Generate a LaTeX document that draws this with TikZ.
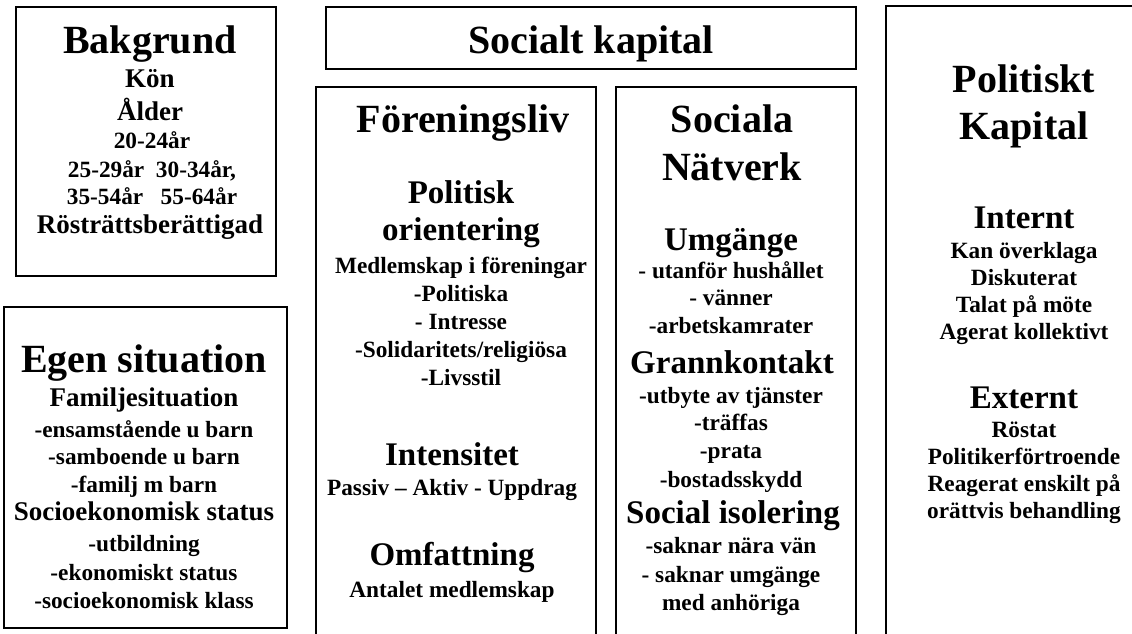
\documentclass[tikz,border=0pt]{standalone}
\usepackage{fontspec}
\setmainfont{Liberation Serif}
\usepackage{tikz}
\usetikzlibrary{positioning}

\begin{document}
\begin{tikzpicture}[
  x=1pt, y=-1pt,
  frame/.style={draw, line width=1.1pt},
  hd/.style={anchor=base, inner sep=0pt, font=\bfseries\fontsize{40}{40}\selectfont},
  sub/.style={anchor=base, inner sep=0pt, font=\bfseries\fontsize{33}{33}\selectfont},
  mid/.style={anchor=base, inner sep=0pt, font=\bfseries\fontsize{27}{27}\selectfont},
  itm/.style={anchor=base, inner sep=0pt, font=\bfseries\fontsize{23.3}{23.3}\selectfont}
]
  \useasboundingbox (0,0) rectangle (1132,633);
  \clip (0,0) rectangle (1132,633);

  % frames (the three right ones run off the page)
  \draw[frame] (16,7) rectangle (276,276);
  \draw[frame] (4,307) rectangle (287,628);
  \draw[frame] (326,7) rectangle (856,69);
  \draw[frame] (316,700) |- (596,87) -- (596,700);
  \draw[frame] (616,700) |- (856,87) -- (856,700);
  \draw[frame] (886,700) |- (1200,6);

  % Bakgrund
  \node[hd]  (bakgrund) at (150,53)  {Bakgrund};
  \node[mid] (kon)      at (150,87)  {Kön};
  \node[mid] (alder)    at (150,120) {Ålder};
  \node[itm] (age1)     at (152,148) {20-24år};
  \node[itm] (age2)     at (152,177) {25-29år\ \ 30-34år,};
  \node[itm] (age3)     at (152,204) {35-54år\ \ \ 55-64år};
  \node[mid] (rostratt) at (150,233) {Rösträttsberättigad};

  % Egen situation
  \node[hd]  (egen)   at (144,372) {Egen situation};
  \node[mid] (familj) at (144,406) {Familjesituation};
  \node[itm] (fam1)   at (144,437) {-ensamstående u barn};
  \node[itm] (fam2)   at (144,464) {-samboende u barn};
  \node[itm] (fam3)   at (144,492) {-familj m barn};
  \node[mid] (socek)  at (144,520) {Socioekonomisk status};
  \node[itm] (sek1)   at (144,551) {-utbildning};
  \node[itm] (sek2)   at (144,580) {-ekonomiskt status};
  \node[itm] (sek3)   at (144,608) {-socioekonomisk klass};

  % Socialt kapital
  \node[hd] (socialt) at (591,53) {Socialt kapital};

  % Foreningsliv
  \node[hd]  (foren)   at (463,132) {Föreningsliv};
  \node[sub] (polor1)  at (461,203) {Politisk};
  \node[sub] (polor2)  at (461,240) {orientering};
  \node[itm] (medl)    at (461,273) {Medlemskap i föreningar};
  \node[itm] (medl1)   at (461,301) {-Politiska};
  \node[itm] (medl2)   at (461,329) {- Intresse};
  \node[itm] (medl3)   at (461,357) {-Solidaritets/religiösa};
  \node[itm] (medl4)   at (461,385) {-Livsstil};
  \node[sub] (intens)  at (452,465) {Intensitet};
  \node[itm] (passiv)  at (452,495) {Passiv -- Aktiv - Uppdrag};
  \node[sub] (omfatt)  at (452,565) {Omfattning};
  \node[itm] (antal)   at (452,597) {Antalet medlemskap};

  % Sociala natverk
  \node[hd]  (soc1)    at (732,132) {Sociala};
  \node[hd]  (soc2)    at (732,180) {Nätverk};
  \node[sub] (umg)     at (731,250) {Umgänge};
  \node[itm] (umg1)    at (731,278) {- utanför hushållet};
  \node[itm] (umg2)    at (731,305) {- vänner};
  \node[itm] (umg3)    at (731,333) {-arbetskamrater};
  \node[sub] (grann)   at (732,373) {Grannkontakt};
  \node[itm] (gr1)     at (731,403) {-utbyte av tjänster};
  \node[itm] (gr2)     at (731,430) {-träffas};
  \node[itm] (gr3)     at (731,458) {-prata};
  \node[itm] (gr4)     at (731,487) {-bostadsskydd};
  \node[sub] (isol)    at (733,523) {Social isolering};
  \node[itm] (is1)     at (731,553) {-saknar nära vän};
  \node[itm] (is2)     at (731,582) {- saknar umgänge};
  \node[itm] (is3)     at (731,610) {med anhöriga};

  % Politiskt kapital
  \node[hd]  (pol1)    at (1024,92)  {Politiskt};
  \node[hd]  (pol2)    at (1024,139) {Kapital};
  \node[sub] (intern)  at (1024,228) {Internt};
  \node[itm] (in1)     at (1024,258) {Kan överklaga};
  \node[itm] (in2)     at (1024,285) {Diskuterat};
  \node[itm] (in3)     at (1024,312) {Talat på möte};
  \node[itm] (in4)     at (1024,339) {Agerat kollektivt};
  \node[sub] (extern)  at (1024,408) {Externt};
  \node[itm] (ex1)     at (1024,437) {Röstat};
  \node[itm] (ex2)     at (1024,464) {Politikerförtroende};
  \node[itm] (ex3)     at (1024,491) {Reagerat enskilt på};
  \node[itm] (ex4)     at (1024,518) {orättvis behandling};
\end{tikzpicture}
\end{document}
